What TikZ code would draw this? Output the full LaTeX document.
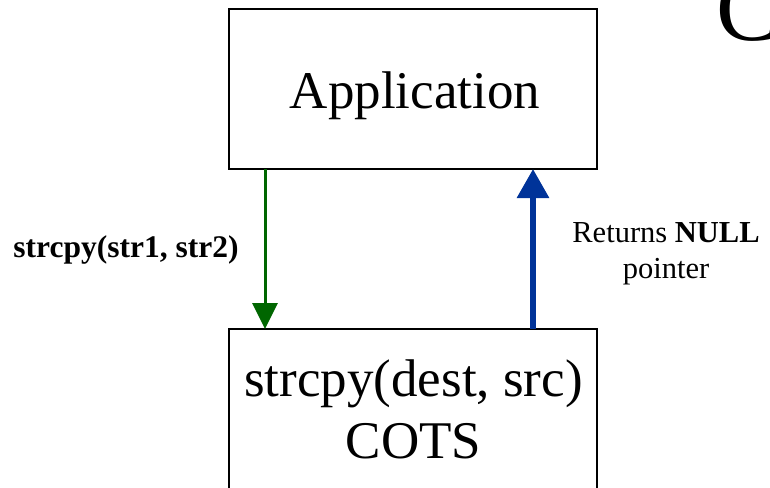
\documentclass[tikz,border=0pt]{standalone}
\usepackage{fontspec}
\setmainfont{Liberation Serif}
\usetikzlibrary{arrows.meta}
\definecolor{callgreen}{HTML}{006600}
\definecolor{retblue}{HTML}{003399}
\tikzset{
  box/.style={draw=black, line width=2pt, fill=white, inner sep=0pt, outer sep=0pt},
  bigtext/.style={inner sep=0pt, font=\fontsize{53}{60}\selectfont},
  smalltext/.style={inner sep=0pt, font=\fontsize{30.5}{36}\selectfont},
  callarrow/.style={draw=callgreen, line width=3pt, -{Triangle[length=26pt,width=25pt]}, fill=callgreen},
  retarrow/.style={draw=retblue, line width=6pt, -{Triangle[length=29pt,width=31pt]}, fill=retblue},
}
\begin{document}
\begin{tikzpicture}[x=1pt,y=-1pt]
\path[use as bounding box, clip] (0,0) rectangle (770,487);
\fill[white] (0,0) rectangle (770,487);
% boxes
\node[box, minimum width=368pt, minimum height=160pt] (app) at (413,89) {};
\node[box, minimum width=368pt, minimum height=200pt, anchor=north] (cots) at (413,329) {};
% texts
\node[bigtext, anchor=base] (apptext) at (415,108) {Application};
\node[bigtext, anchor=base] (cotsline1) at (413.5,396) {strcpy(dest, src)};
\node[bigtext, anchor=base] (cotsline2) at (413.5,458) {COTS};
\node[inner sep=0pt, anchor=base west, font=\fontsize{95}{100}\selectfont] (bigc) at (716,41) {C};
\node[smalltext, anchor=base, font=\fontsize{31.5}{36}\selectfont\bfseries] (calllabel) at (126,257) {strcpy(str1, str2)};
\node[smalltext, anchor=base] (retlabel1) at (666,242) {Returns \textbf{NULL}};
\node[smalltext, anchor=base] (retlabel2) at (666,278) {pointer};
% connectors
\coordinate (gx) at (265,0);
\coordinate (bx) at (533,0);
\draw[callarrow] (gx |- app.south) -- (gx |- cots.north);
\draw[retarrow] (bx |- cots.north) -- (bx |- app.south);
\end{tikzpicture}
\end{document}
